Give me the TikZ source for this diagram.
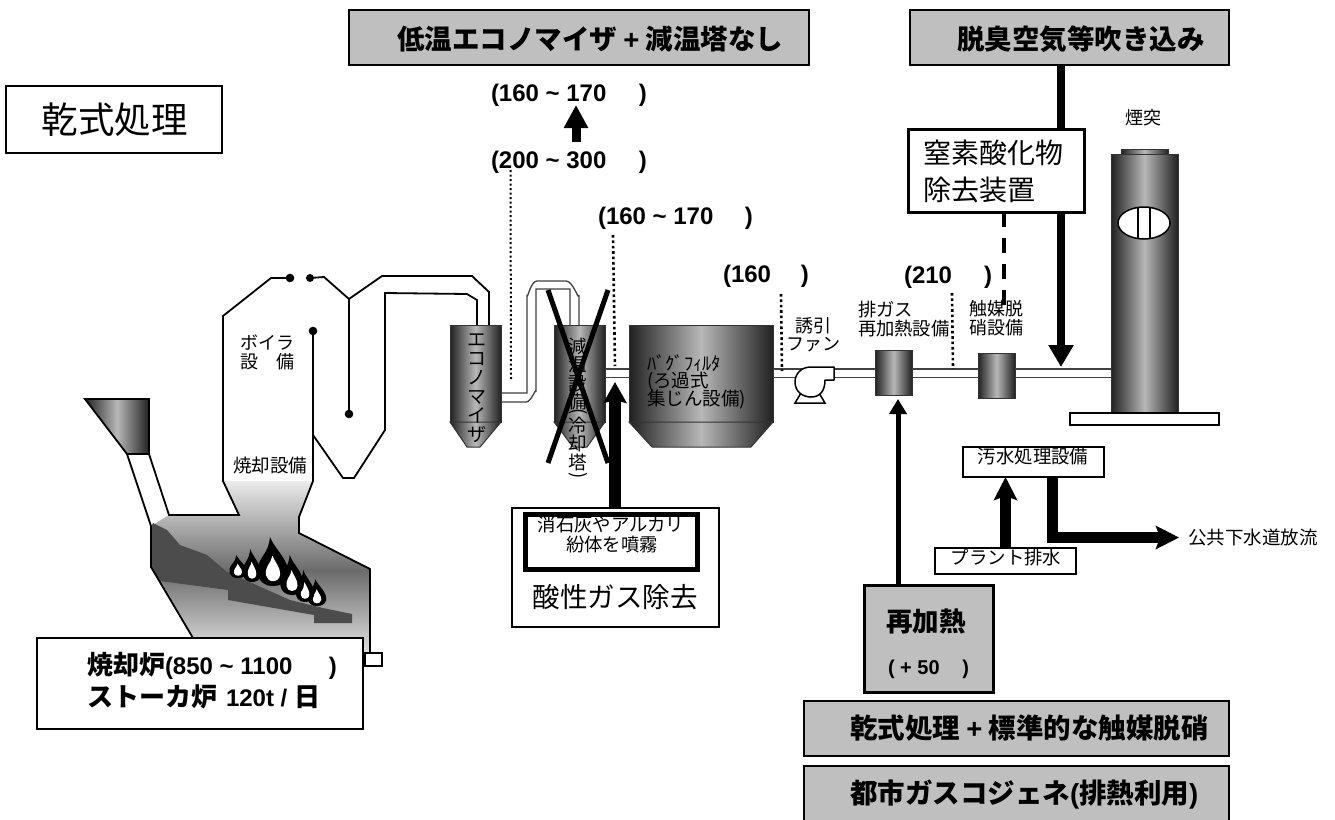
\documentclass[tikz,border=0pt]{standalone}
\usepackage{fontspec}
\setmainfont{Noto Sans CJK JP}
\newfontfamily\La{Liberation Sans}
\usetikzlibrary{arrows.meta}
\newcommand\pxs[1]{\fontsize{#1}{#1}\selectfont\lineskiplimit=-100pt }
\definecolor{boxg}{gray}{0.75}
\definecolor{metalD}{gray}{0.13}
\definecolor{metalL}{gray}{0.72}
\newcommand\flame[4]{%
 \begin{scope}[shift={(#1,#2)},x=#3pt,y=#4pt]
  \fill[black] (0,0) .. controls (-.55,0) and (-.65,.35) .. (-.35,.6) .. controls (-.2,.72) and (-.12,.85) .. (-.1,1) .. controls (.05,.75) and (.6,.5) .. (.5,.2) .. controls (.45,.05) and (.2,0) .. (0,0) -- cycle;
  \fill[white] (0,.1) .. controls (-.26,.1) and (-.3,.3) .. (-.17,.42) .. controls (-.08,.5) and (-.04,.56) .. (-.02,.62) .. controls (.05,.5) and (.25,.38) .. (.24,.24) .. controls (.22,.13) and (.1,.1) .. (0,.1) -- cycle;
 \end{scope}}
\tikzset{
 x=1pt,y=-1pt,
 txt/.style={inner sep=0pt,outer sep=0pt},
 btxt/.style={txt,font=\bfseries\pxs{#1}},
 ntxt/.style={txt,font=\pxs{#1}},
 labelstack/.style={txt,align=center,font=\pxs{#1}},
 frame/.style={draw=black,fill=white,line width=#1,inner sep=0pt,outer sep=0pt,anchor=north west},
 grayframe/.style={draw=black,fill=boxg,line width=#1,inner sep=0pt,outer sep=0pt,anchor=north west},
 metal/.style={left color=metalD,right color=metalD,middle color=metalL},
 metalbox/.style={metal,draw=black!80,line width=1pt,inner sep=0pt,outer sep=0pt,anchor=north west},
 wall/.style={draw=black,line width=1.8pt,line join=miter},
 pipe/.style={draw=black!75,line width=1.3pt},
 tapline/.style={draw=black,line width=2.6pt,dash pattern=on 2.6pt off 2.8pt},
 bigarrow/.style={draw=black,line width=8pt,-{Triangle[length=22pt,width=24pt]}},
 medarrow/.style={draw=black,line width=5pt,-{Triangle[length=15pt,width=17pt]}},
 wetarrow/.style={draw=black,line width=11pt,-{Stealth[length=23pt,width=23pt,inset=4pt]}},
 crossbar/.style={draw=black,line width=5pt},
 dotmark/.style={fill=black},
}
\begin{document}
\begin{tikzpicture}
\useasboundingbox (0,0) rectangle (1335,819);
\clip (0,0) rectangle (1335,819);
\fill[white] (0,0) rectangle (1335,819);
% furnace fill
\shade[top color=black!8,bottom color=black!8,middle color=black!58]
 (151,526) -- (169,515) -- (239,515) -- (223,481) -- (313,481) -- (299,517) -- (299,533) -- (370,569) -- (370,660) -- (193,660) -- (193,638) -- (151,567) -- cycle;
% burning bed
\fill[black!70] (153,523) -- (151,527) -- (151,567) -- (160,581) -- (228,590) -- (228,600) -- (314,615) -- (314,623) -- (352,623) -- (352,614) -- (323,608) -- (290,600) -- (227,572) -- (207,555) -- (180,545) -- (167,530) -- cycle;
\flame{238}{578}{17}{23}
\flame{252}{582}{18}{33}
\flame{317}{606}{18}{27}
\flame{305}{602}{18}{32}
\flame{292}{595}{23}{40}
\flame{273}{586}{30}{49}
% hopper and chute
\shade[metal] (85,399) -- (149,399) -- (149,454) -- (127,454) -- cycle;
\draw[wall] (85,399) -- (149,399) -- (149,454) -- (127,454) -- cycle;
\draw[wall] (127,454) -- (151,526) -- (151,567) -- (193,638);
% furnace and boiler walls
\draw[wall] (149,454) -- (169,515) -- (239,515) -- (223,481) -- (223,316) -- (271,278) -- (290,278);
\fill[dotmark] (290,278) circle[radius=4.3pt];
\fill[dotmark] (310,278) circle[radius=4pt];
\draw[wall] (310,278) -- (324,277) -- (349,299) -- (382,276) -- (472,276) -- (489,292) -- (489,325);
\draw[wall] (349,299) -- (349,414);
\fill[dotmark] (349,414) circle[radius=4.3pt];
\fill[dotmark] (313,331) circle[radius=4.3pt];
\draw[wall] (313,331) -- (313,481) -- (299,517) -- (299,533) -- (370,569) -- (370,653);
\draw[wall] (313,435) -- (343,478) -- (354,478) -- (385,430) -- (385,293) -- (467,294) -- (477,300) -- (477,325);
\node[frame=1.5pt,minimum width=17pt,minimum height=13pt] (ash) at (365,653) {};
% pipe levels
\coordinate (pu) at (0,369);
\coordinate (pl) at (0,377.5);
% equipment
\node[metalbox,minimum width=51pt,minimum height=97pt] (econ) at (450,325) {};
\shade[metal] (450,422) -- (467,447) -- (480,447) -- (501,422) -- cycle;
\draw[black!80,line width=1pt] (450,422) -- (467,447) -- (480,447) -- (501,422) -- cycle;
\node[metalbox,minimum width=51pt,minimum height=97pt] (tower) at (554,325) {};
\shade[metal] (554,422) -- (573,447) -- (587,447) -- (605,422) -- cycle;
\draw[black!80,line width=1pt] (554,422) -- (573,447) -- (587,447) -- (605,422) -- cycle;
\node[metalbox,minimum width=144pt,minimum height=97pt] (bag) at (629,325) {};
\shade[metal] (629,422) -- (652,447) -- (751,447) -- (773,422) -- cycle;
\draw[black!80,line width=1pt] (629,422) -- (652,447) -- (751,447) -- (773,422) -- cycle;
\node[metalbox,minimum width=37pt,minimum height=45pt] (heater) at (875,350) {};
\node[metalbox,minimum width=37pt,minimum height=45pt] (scr) at (978,353) {};
% main gas pipe
\draw[pipe] (tower.east |- pu) -- (bag.west |- pu) (tower.east |- pl) -- (bag.west |- pl);
\draw[pipe] (bag.east |- pu) -- (heater.west |- pu) (bag.east |- pl) -- (heater.west |- pl);
\draw[pipe] (heater.east |- pu) -- (scr.west |- pu) (heater.east |- pl) -- (scr.west |- pl);
% economiser to tower
\draw[pipe] (501,393) -- (527,393) -- (527,295) to[out=-90,in=180] (537,281) -- (566,281) to[out=0,in=-90] (579,295) -- (579,325);
\draw[pipe] (501,402) -- (526,402) to[out=0,in=90] (536,392) -- (536,289) -- (570,289) -- (570,325);
% fan
\draw[draw=black,fill=white,line width=1.5pt] (795,403) -- (801,393) -- (819,393) -- (825,403) -- cycle;
\draw[draw=black,fill=white,line width=1.5pt,line join=round] (834,367) -- (811,367) .. controls (801,367) and (795,374) .. (795,382) .. controls (795,391) and (802,397) .. (811,397) .. controls (820,397) and (825,391) .. (825,380) -- (834,380) -- cycle;
\node[txt] (fan) at (814,382) {};
% stack
\node[metalbox,minimum width=47pt,minimum height=5pt] (cap) at (1121,149) {};
\node[metalbox,minimum width=67pt,minimum height=259pt] (stack) at (1111,154) {};
\node[frame=1.6pt,minimum width=149pt,minimum height=12pt] (base) at (1070,413) {};
\draw[draw=black,fill=white,line width=1.5pt] (1144,223) ellipse[x radius=26pt,y radius=16pt];
\draw[black,line width=1.5pt] (1138,207) -- (1138,239) (1150,207) -- (1150,239);
\draw[pipe] (scr.east |- pu) -- (stack.west |- pu) (scr.east |- pl) -- (stack.west |- pl);
% vertical equipment text
\node[labelstack=19] (econtxt) at (477,388) {エ\\コ\\ノ\\マ\\イ\\ザ};
\node[labelstack=18.5] (towertxt1) at (578,374) {減\\温\\設\\備};
\node[ntxt=18.5,rotate=-90] (towerp1) at (578,412) {(};
\node[labelstack=18.5] (towertxt2) at (578,444) {冷\\却\\塔};
\node[ntxt=18.5,rotate=-90] (towerp2) at (578,476) {)};
\node[ntxt=18.5,anchor=west] (bagt1) at (647,363) {ﾊﾞｸﾞﾌｨﾙﾀ};
\node[ntxt=18.5,anchor=west] (bagt2) at (647,382) {(ろ過式};
\node[ntxt=18.5,anchor=west] (bagt3) at (647,400) {集じん設備)};
% cross
\coordinate (xa) at (548,290); \coordinate (xb) at (608,463);
\coordinate (xc) at (608,290); \coordinate (xd) at (548,463);
\draw[crossbar] (xa) -- (xb);
\draw[crossbar] (xc) -- (xd);
% measurement tap lines
\coordinate (d1a) at (510.5,170); \coordinate (d1b) at (511,380);
\coordinate (d2a) at (613,235); \coordinate (d2b) at (615,366);
\coordinate (d3a) at (781,294); \coordinate (d3b) at (782,371);
\coordinate (d4a) at (952,293); \coordinate (d4b) at (953,369);
\draw[tapline,line width=2pt,dash pattern=on 2pt off 2.5pt] (d1a) -- (d1b);
\draw[tapline] (d2a) -- (d2b);
\draw[tapline] (d3a) -- (d3b);
\draw[tapline] (d4a) -- (d4b);
% top boxes
\node[grayframe=1.6pt,minimum width=460pt,minimum height=55pt] (low) at (349,10) {};
\node[btxt=27.5,anchor=west] (lowt) at (397,39) {低温エコノマイザ {\La +} 減温塔なし};
\node[grayframe=1.6pt,minimum width=319pt,minimum height=55pt] (air) at (910,10) {};
\node[btxt=27.5,anchor=west] (airt) at (957,39) {脱臭空気等吹き込み};
\node[frame=2.5pt,minimum width=216pt,minimum height=67pt] (dry) at (6,86) {};
\node[ntxt=36.5] (dryt) at (114.5,120) {乾式処理};
% temperature labels
\node[btxt=24,anchor=west] (t1) at (491,95) {\La\hbox to 156pt{(160 \textasciitilde\ 170\hfill)}};
\node[btxt=24,anchor=west] (t2) at (491,162) {\La\hbox to 156pt{(200 \textasciitilde\ 300\hfill)}};
\node[btxt=24,anchor=west] (t3) at (598,218) {\La\hbox to 155pt{(160 \textasciitilde\ 170\hfill)}};
\node[btxt=24,anchor=west] (t4) at (723,276) {\La\hbox to 86pt{(160\hfill)}};
\node[btxt=24,anchor=west] (t5) at (904,277) {\La\hbox to 88pt{(210\hfill)}};
\coordinate (smalla) at (576,142); \coordinate (smallb) at (576,105);
\draw[draw=black,line width=9pt,-{Triangle[length=23pt,width=23pt]}] (smalla) -- (smallb);
% air arrow and NOx box
\coordinate (airend) at (1061,367);
\draw[bigarrow] (air.south -| airend) -- (airend);
\coordinate (dashend) at (1004,307);
\node[frame=3pt,minimum width=176pt,minimum height=83pt] (nox) at (908,129) {};
\draw[draw=black,line width=4pt,dash pattern=on 15pt off 11pt] (nox.south -| dashend) -- (dashend);
\node[ntxt=28,anchor=west] (noxa) at (923,153) {窒素酸化物};
\node[ntxt=28,anchor=west] (noxb) at (923,190) {除去装置};
% labels
\node[ntxt=18,anchor=west] (boila) at (240,343) {ボイラ};
\node[ntxt=18,anchor=west] (boilb) at (240,362) {設\hspace{18pt}備};
\node[ntxt=18.5] (burn) at (270,465) {焼却設備};
\node[labelstack=18] (fanl) at (813,335) {誘引\\ファン};
\node[ntxt=18.3,anchor=west] (heata) at (858,310) {排ガス};
\node[ntxt=18.3,anchor=west] (heatb) at (858,329) {再加熱設備};
\node[ntxt=18,anchor=west] (scra) at (969,309) {触媒脱};
\node[ntxt=18,anchor=west] (scrb) at (969,328) {硝設備};
\node[ntxt=18] (stackl) at (1143,118) {煙突};
% furnace box
\node[frame=1.6pt,minimum width=326pt,minimum height=91pt] (fur) at (37,638) {};
\node[btxt=26,anchor=west] (fura) at (87,666) {焼却炉{\La\hbox to 172pt{\pxs{24}(850 \textasciitilde\ 1100\hfill)}}};
\node[btxt=26,anchor=west] (furb) at (87,697) {ストーカ炉\hspace{9pt}{\La\pxs{24}120t / }日};
% acid gas box
\node[frame=2.5pt,minimum width=207pt,minimum height=119pt] (acid) at (512,508) {};
\node[ntxt=18.4] (acida) at (611,525) {消石灰やアルカリ};
\node[ntxt=18.4] (acidb) at (612,545) {紛体を噴霧};
\node[draw=black,line width=5pt,inner sep=0pt,outer sep=0pt,anchor=north west,minimum width=172pt,minimum height=55pt] (acidin) at (525.5,514) {};
\node[ntxt=27.5] (acidc) at (615,597) {酸性ガス除去};
\coordinate (acidtip) at (615,382);
\draw[draw=black,line width=12pt,-{Stealth[length=21pt,width=23pt,inset=3pt]}] (acid.north -| acidtip) -- (acidtip);
% reheat box and arrow
\node[grayframe=3pt,minimum width=129pt,minimum height=107pt] (reh) at (864,585) {};
\node[btxt=26.5] (reha) at (926,621) {再加熱};
\node[btxt=20,anchor=west] (rehb) at (888,669) {\La\hbox to 81pt{( + 50\hfill)}};
\coordinate (rehtip) at (898,399);
\draw[medarrow] (reh.north -| rehtip) -- (rehtip);
% waste water
\node[frame=1.3pt,minimum width=141pt,minimum height=30pt] (wtp) at (963,447) {};
\node[ntxt=18.4] (wtpt) at (1033,457) {汚水処理設備};
\node[frame=1.3pt,minimum width=141pt,minimum height=26pt] (plant) at (935,548) {};
\node[ntxt=18.4] (plantt) at (1006,558) {プラント排水};
\coordinate (wup) at (1005.5,477);
\draw[wetarrow] (plant.north -| wup) -- (wup);
\coordinate (sewc) at (1052.5,537.5);
\node[ntxt=18.5,anchor=west] (sewt) at (1188,537.5) {公共下水道放流};
\coordinate (sewtip) at (1179,537.5);
\draw[wetarrow] (wtp.south -| sewc) -- (sewc) -- (sewtip);
% bottom boxes
\node[grayframe=1.6pt,minimum width=425pt,minimum height=55pt] (std) at (804,701) {};
\node[btxt=27.5,anchor=west] (stdt) at (850,728) {乾式処理 {\La +} 標準的な触媒脱硝};
\node[grayframe=1.6pt,minimum width=425pt,minimum height=60pt] (gas) at (804,766) {};
\node[btxt=27.5,anchor=west] (gast) at (850,795) {都市ガスコジェネ{\La (}排熱利用{\La )}};
\end{tikzpicture}
\end{document}
